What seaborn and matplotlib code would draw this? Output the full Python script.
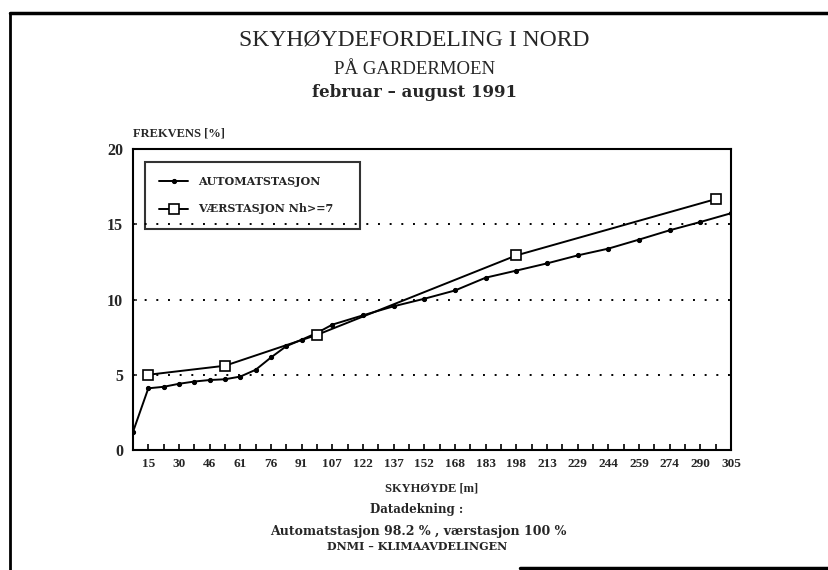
import matplotlib
matplotlib.use("Agg")
import matplotlib.pyplot as plt
from matplotlib.lines import Line2D
import seaborn as sns
import pandas as pd

# ---- data ----
# x positions in feet (one minor tick = 25 ft); labels show the 50-ft bins in metres
auto_ft = [0, 25, 50, 75, 100, 125, 150, 175, 200, 225, 250, 275, 300, 325,
           375, 425, 475, 525, 575, 625, 675, 725, 775, 825, 875, 925, 975]
auto_pct = [1.2, 4.1, 4.2, 4.4, 4.55, 4.65, 4.7, 4.88, 5.33, 6.15, 6.9, 7.33, 7.78, 8.33,
            8.95, 9.55, 10.05, 10.6, 11.45, 11.92, 12.4, 12.93, 13.38, 13.98, 14.6, 15.15, 15.73]
vaer_ft = [25, 150, 300, 625, 950]
vaer_pct = [5.0, 5.6, 7.65, 12.93, 16.67]
xtick_labels = ["15", "30", "46", "61", "76", "91", "107", "122", "137", "152",
                "168", "183", "198", "213", "229", "244", "259", "274", "290", "305"]
ytick_values = [0, 5, 10, 15, 20]
series_names = ["AUTOMATSTASJON", "VÆRSTASJON Nh>=7"]

sns.set_theme(style="white")
plt.rcParams["font.family"] = ["Liberation Serif", "DejaVu Serif"]

fig = plt.figure(figsize=(8.29, 5.70), dpi=100)
ax = fig.add_axes([0.1604, 0.2105, 0.7214, 0.5281])

df_auto = pd.DataFrame({"x": auto_ft, "y": auto_pct})
df_vaer = pd.DataFrame({"x": vaer_ft, "y": vaer_pct})

sns.lineplot(data=df_auto, x="x", y="y", ax=ax, color="black", linewidth=1.4,
             marker="o", markersize=3, markeredgecolor="black", label=series_names[0])
sns.lineplot(data=df_vaer, x="x", y="y", ax=ax, color="black", linewidth=1.4,
             marker="s", markersize=7.5, markerfacecolor="white", markeredgecolor="black",
             markeredgewidth=1.2, label=series_names[1])

ax.set_xlim(0, 975)
ax.set_ylim(0, 20)

# dotted gridlines
for yv in ytick_values[1:-1]:
    ax.axhline(yv, color="black", linewidth=1.4, linestyle=(0, (1, 5)), zorder=0.5)

major = [25 + 50 * i for i in range(len(xtick_labels))]
minor = [50 * i for i in range(1, len(xtick_labels))]
ax.set_xticks(major)
ax.set_xticklabels(xtick_labels)
ax.set_xticks(minor, minor=True)
ax.set_yticks(ytick_values)
ax.set_yticklabels([str(v) for v in ytick_values])

ax.tick_params(axis="x", which="both", direction="in", length=4.5, width=1.2,
               color="black", bottom=True, pad=6)
ax.tick_params(axis="x", labelsize=9.5)
ax.tick_params(axis="y", direction="in", length=3, width=1.2, left=True, pad=7,
               labelsize=11.5)
for lab in ax.get_xticklabels() + ax.get_yticklabels():
    lab.set_fontweight("bold")

for s in ax.spines.values():
    s.set_visible(True)
    s.set_color("black")
    s.set_linewidth(1.5)

ax.set_xlabel("SKYHØYDE [m]", fontsize=9, fontweight="bold", labelpad=9)
ax.set_ylabel("")
ax.text(0.0, 1.03, "FREKVENS [%]", transform=ax.transAxes, fontsize=9,
        fontweight="bold", ha="left", va="bottom")

leg = ax.legend(loc="upper left", bbox_to_anchor=(0.02, 0.738, 0.36, 0.219),
                mode="expand", frameon=True, fancybox=False, edgecolor="black",
                facecolor="none", framealpha=None,
                prop={"family": ["DejaVu Serif"], "weight": "bold", "size": 8},
                handlelength=2.6, handletextpad=0.9, borderpad=1.3, labelspacing=1.45,
                borderaxespad=0)
leg.get_frame().set_linewidth(1.5)

# titles
fig.text(0.5, 1 - 40 / 570, "SKYHØYDEFORDELING I NORD", ha="center", va="center",
         fontsize=17)
fig.text(0.5, 1 - 69 / 570, "PÅ GARDERMOEN", ha="center", va="center", fontsize=13.5)
fig.text(0.5, 1 - 92 / 570, "februar – august 1991", ha="center", va="center",
         fontsize=12, fontweight="bold", family=["DejaVu Serif"])

# footer
fig.text(0.502, 1 - 510 / 570, "Datadekning :", ha="center", va="center",
         fontsize=8.5, fontweight="bold", family=["DejaVu Serif"])
fig.text(0.504, 1 - 531 / 570, "Automatstasjon 98.2 % , værstasjon 100 %",
         ha="center", va="center", fontsize=9, fontweight="bold", family=["DejaVu Serif"])
fig.text(0.503, 1 - 547 / 570, "DNMI – KLIMAAVDELINGEN", ha="center", va="center",
         fontsize=8, fontweight="bold", family=["DejaVu Serif"])

# page frame
fig.add_artist(Line2D([10 / 829, 10 / 829], [0, 1 - 13 / 570], color="black",
                      linewidth=2, transform=fig.transFigure))
fig.add_artist(Line2D([10 / 829, 1], [1 - 13 / 570, 1 - 13 / 570], color="black",
                      linewidth=2.5, transform=fig.transFigure))
fig.add_artist(Line2D([520 / 829, 1], [2 / 570, 2 / 570], color="black",
                      linewidth=2.5, transform=fig.transFigure))

fig.savefig("out.png", dpi=100)
